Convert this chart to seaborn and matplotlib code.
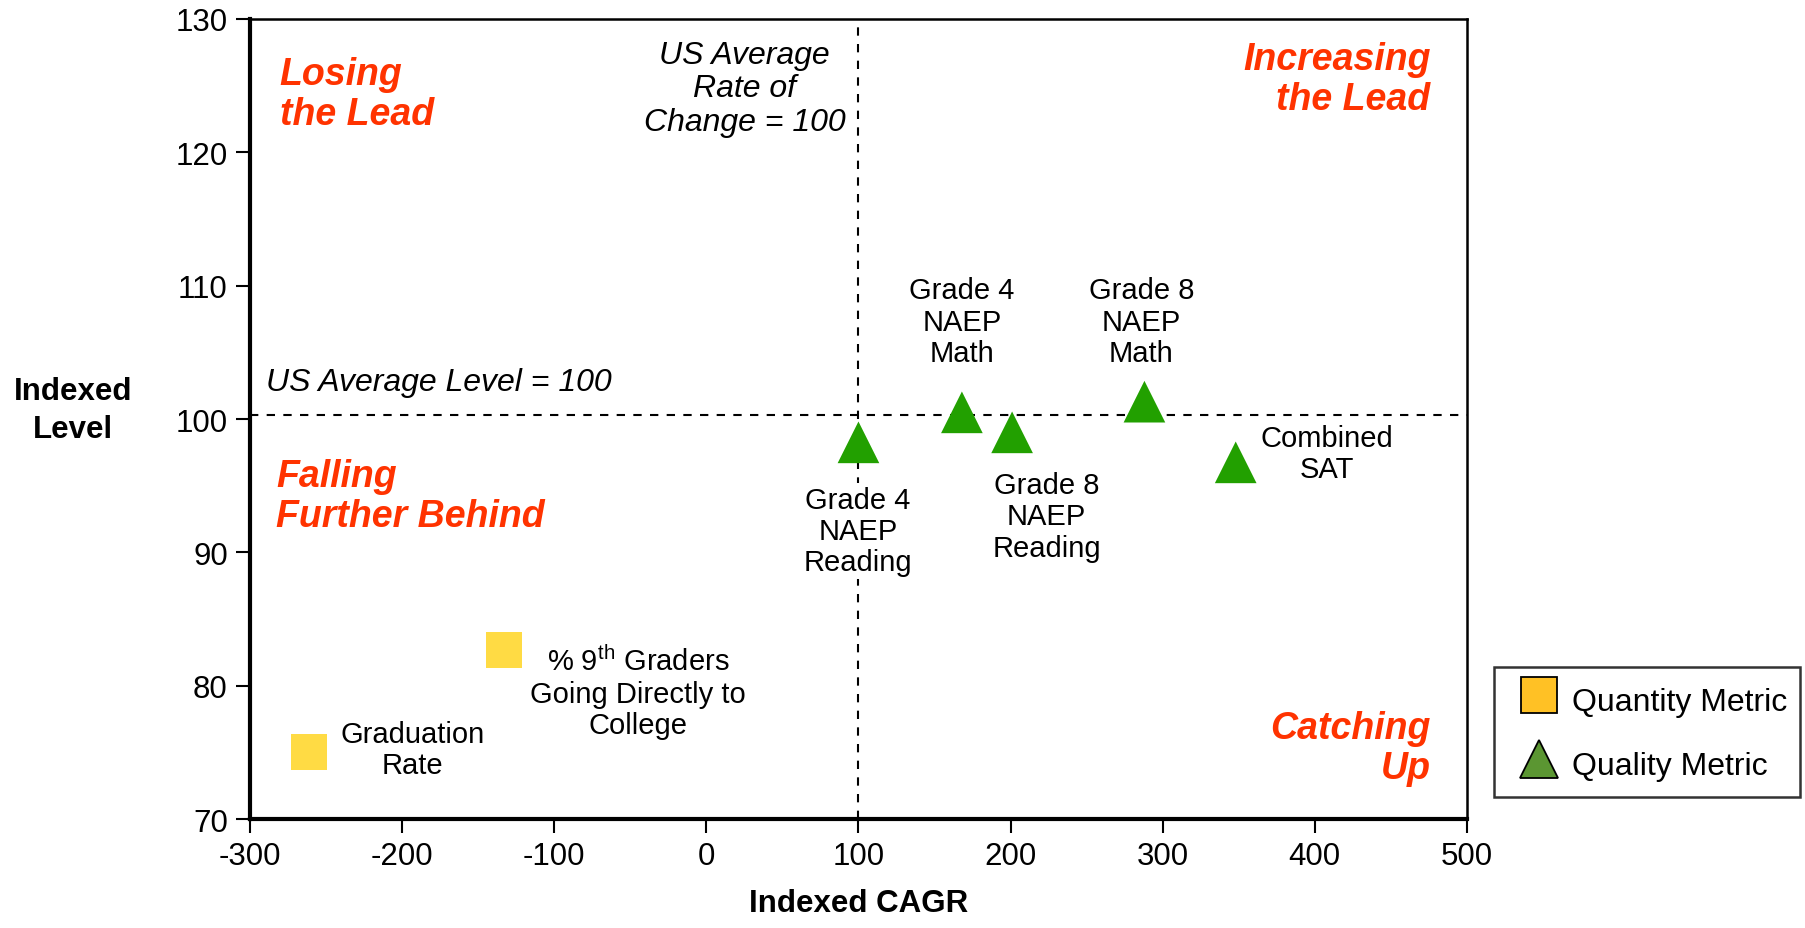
import pandas as pd
import seaborn as sns
import matplotlib.pyplot as plt
from matplotlib.lines import Line2D

# data
metric_names = ["Graduation Rate", "% 9th Graders to College",
                "Grade 4 NAEP Reading", "Grade 4 NAEP Math",
                "Grade 8 NAEP Reading", "Grade 8 NAEP Math", "Combined SAT"]
metric_types = ["Quantity", "Quantity",
                "Quality", "Quality", "Quality", "Quality", "Quality"]
indexed_cagr = [-261, -133, 100, 168, 201, 288, 348]
indexed_level = [75.0, 82.7, 98.25, 100.5, 99.0, 101.3, 96.75]

us_rate_line = 100
us_level_line = 100.3

x_ticks = [-300, -200, -100, 0, 100, 200, 300, 400, 500]
y_ticks = [70, 80, 90, 100, 110, 120, 130]

RED = "#FF3300"


def main():
    df = pd.DataFrame({"name": metric_names, "type": metric_types,
                       "cagr": indexed_cagr, "level": indexed_level})

    sns.set_style("white")
    plt.rcParams["font.family"] = ["Liberation Sans", "DejaVu Sans"]
    plt.rcParams["mathtext.fontset"] = "custom"
    plt.rcParams["mathtext.rm"] = "Liberation Sans"
    plt.rcParams["axes.unicode_minus"] = False
    plt.rcParams["text.color"] = "black"
    plt.rcParams["axes.labelcolor"] = "black"
    plt.rcParams["xtick.color"] = "black"
    plt.rcParams["ytick.color"] = "black"

    fig = plt.figure(figsize=(18.05, 9.29), dpi=100)
    ax = fig.add_axes([0.1385, 0.1173, 0.6742, 0.8612])

    # reference lines
    ax.axhline(us_level_line, color="black", lw=1.5, ls=(0, (4, 4)), zorder=1)
    ax.axvline(us_rate_line, color="black", lw=1.5, ls=(0, (4, 4)), zorder=1)

    qty = df[df["type"] == "Quantity"]
    qual = df[df["type"] == "Quality"]
    sns.scatterplot(data=qty, x="cagr", y="level", marker="s", s=26 ** 2,
                    color="#FFDB44", edgecolor="none", linewidth=0,
                    ax=ax, zorder=4, legend=False)
    sns.scatterplot(data=qual, x="cagr", y="level", marker="^", s=30 ** 2,
                    color="#22A000", edgecolor="none", linewidth=0,
                    ax=ax, zorder=4, legend=False)

    ax.set_xlim(-300, 500)
    ax.set_ylim(70, 130)
    ax.set_xticks(x_ticks)
    ax.set_yticks(y_ticks)
    ax.tick_params(axis="both", labelsize=22.5, length=10, width=1.5,
                   direction="out", bottom=True, left=True, pad=6)
    for side in ["left", "bottom"]:
        ax.spines[side].set_linewidth(3)
    for side in ["top", "right"]:
        ax.spines[side].set_linewidth(1.8)
    for sp in ax.spines.values():
        sp.set_color("black")

    ax.set_xlabel("Indexed CAGR", fontsize=22.5, fontweight="bold", labelpad=12)
    ax.set_ylabel("")
    fig.text(0.0405, 0.5576, "Indexed\nLevel", fontsize=22.5, fontweight="bold",
             ha="center", va="center", linespacing=1.35)

    # quadrant labels
    qkw = dict(color=RED, fontsize=27, fontweight="bold", style="italic",
               va="center", linespacing=1.15)
    ax.text(-280.5, 124.4, "Losing\nthe Lead", ha="left", **qkw)
    ax.text(476, 125.5, "Increasing\nthe Lead", ha="right", **qkw)
    ax.text(-283, 94.2, "Falling\nFurther Behind", ha="left", **qkw)
    ax.text(476, 75.3, "Catching\nUp", ha="right", **qkw)

    # reference line notes
    ax.text(25, 124.8, "US Average\nRate of\nChange = 100", ha="center",
            va="center", fontsize=23, style="italic", linespacing=1.15)
    ax.text(-289.5, 102.75, "US Average Level = 100", ha="left",
            va="center", fontsize=23, style="italic")

    # point labels
    lkw = dict(fontsize=21, ha="center", va="center", linespacing=1.15)
    ax.text(168, 107.3, "Grade 4\nNAEP\nMath", **lkw)
    ax.text(286, 107.3, "Grade 8\nNAEP\nMath", **lkw)
    ax.text(99.7, 91.6, "Grade 4\nNAEP\nReading", zorder=3,
            bbox=dict(facecolor="white", edgecolor="none", pad=2), **lkw)
    ax.text(223.7, 92.7, "Grade 8\nNAEP\nReading", **lkw)
    ax.text(407.9, 97.4, "Combined\nSAT", **lkw)
    ax.text(-45, 79.5, "% 9$^{\\mathrm{th}}$ Graders\nGoing Directly to\nCollege",
            **lkw)
    ax.text(-193.4, 75.2, "Graduation\nRate", **lkw)

    # legend
    handles = [
        Line2D([], [], marker="s", ls="none", markersize=26,
               markerfacecolor="#FFC125", markeredgecolor="black",
               markeredgewidth=1.3, label="Quantity Metric"),
        Line2D([], [], marker="^", ls="none", markersize=28,
               markerfacecolor="#5B9632", markeredgecolor="black",
               markeredgewidth=1.3, label="Quality Metric"),
    ]
    leg = fig.legend(handles=handles, loc="upper left",
                     bbox_to_anchor=(1494 / 1805, 1 - 668 / 929),
                     borderaxespad=0, fontsize=23, frameon=True,
                     fancybox=False, handletextpad=0.05, labelspacing=0.75,
                     borderpad=0.4, handlelength=2.0, handleheight=1.55)
    leg.get_frame().set_edgecolor("black")
    leg.get_frame().set_linewidth(1.8)

    fig.savefig("out.png", dpi=100)


if __name__ == "__main__":
    main()
